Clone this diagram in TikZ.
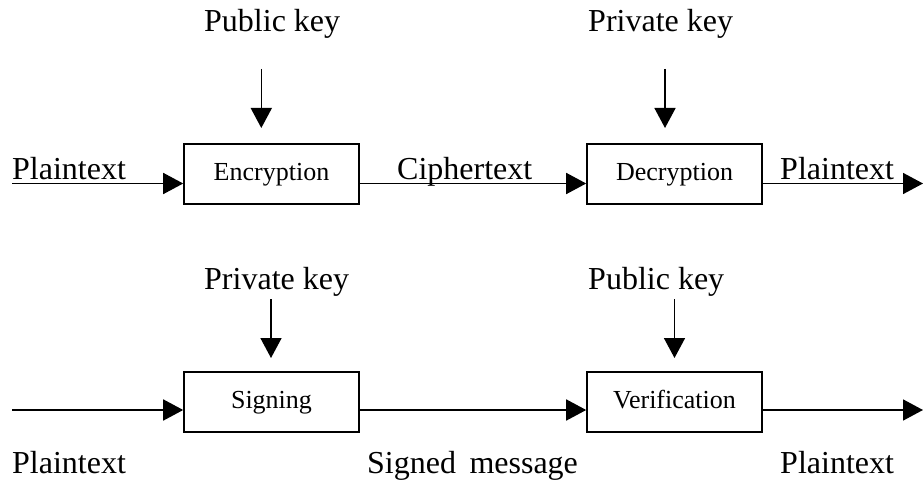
\documentclass[tikz,border=0pt]{standalone}
\usepackage{fontspec}
\setmainfont{Liberation Serif}
\usetikzlibrary{arrows.meta}
\begin{document}
\begin{tikzpicture}[x=1pt,y=-1pt,
  arr/.style={line width=1.6pt,-{Triangle[length=20pt,width=21pt]}},
  boxnode/.style={draw,line width=1.6pt,minimum width=175pt,minimum height=60pt,inner sep=0pt,text height=18pt,text depth=5pt,font=\fontsize{26}{30}\selectfont},
  lbl/.style={anchor=base west,inner sep=0pt,font=\fontsize{32}{36}\selectfont}]
\useasboundingbox (0,0) rectangle (923,481);
% boxes
\node[boxnode] (enc) at (271.5,174) {Encryption};
\node[boxnode] (dec) at (674.5,174) {Decryption};
\node[boxnode] (sig) at (271.5,402) {Signing};
\node[boxnode] (ver) at (674.5,402) {Verification};
% labels
\node[lbl] (pk1) at (204,32) {Public key};
\node[lbl] (sk1) at (588,32) {Private key};
\node[lbl] (sk2) at (204,289) {Private key};
\node[lbl] (pk2) at (588,289) {Public key};
\node[lbl] (pt1) at (12,180) {Plaintext};
\node[lbl] (ct) at (397,179) {Ciphertext};
\node[lbl] (pt2) at (780,179) {Plaintext};
\node[lbl] (pt3) at (12,473) {Plaintext};
\node[lbl] (sm) at (367,473) {Signed\hspace{0.42em}message};
\node[lbl] (pt4) at (780,473) {Plaintext};
% coordinates
\coordinate (in1) at (12,183.5);
\coordinate (out1) at (923,183.5);
\coordinate (in2) at (12,410);
\coordinate (out2) at (923,410);
\coordinate (k1s) at (261.3,69);
\coordinate (k1e) at (261.3,128);
\coordinate (k2s) at (665,69);
\coordinate (k2e) at (665,128);
\coordinate (k3s) at (271,299);
\coordinate (k3e) at (271,358);
\coordinate (k4s) at (674.5,299);
\coordinate (k4e) at (674.5,358);
% connectors top
\draw[arr] (in1) -- (in1 -| enc.west);
\draw[arr] (in1 -| enc.east) -- (in1 -| dec.west);
\draw[arr] (in1 -| dec.east) -- (out1);
% connectors bottom
\draw[arr] (in2) -- (in2 -| sig.west);
\draw[arr] (in2 -| sig.east) -- (in2 -| ver.west);
\draw[arr] (in2 -| ver.east) -- (out2);
% key arrows
\draw[arr] (k1s) -- (k1e);
\draw[arr] (k2s) -- (k2e);
\draw[arr] (k3s) -- (k3e);
\draw[arr] (k4s) -- (k4e);
\end{tikzpicture}
\end{document}
